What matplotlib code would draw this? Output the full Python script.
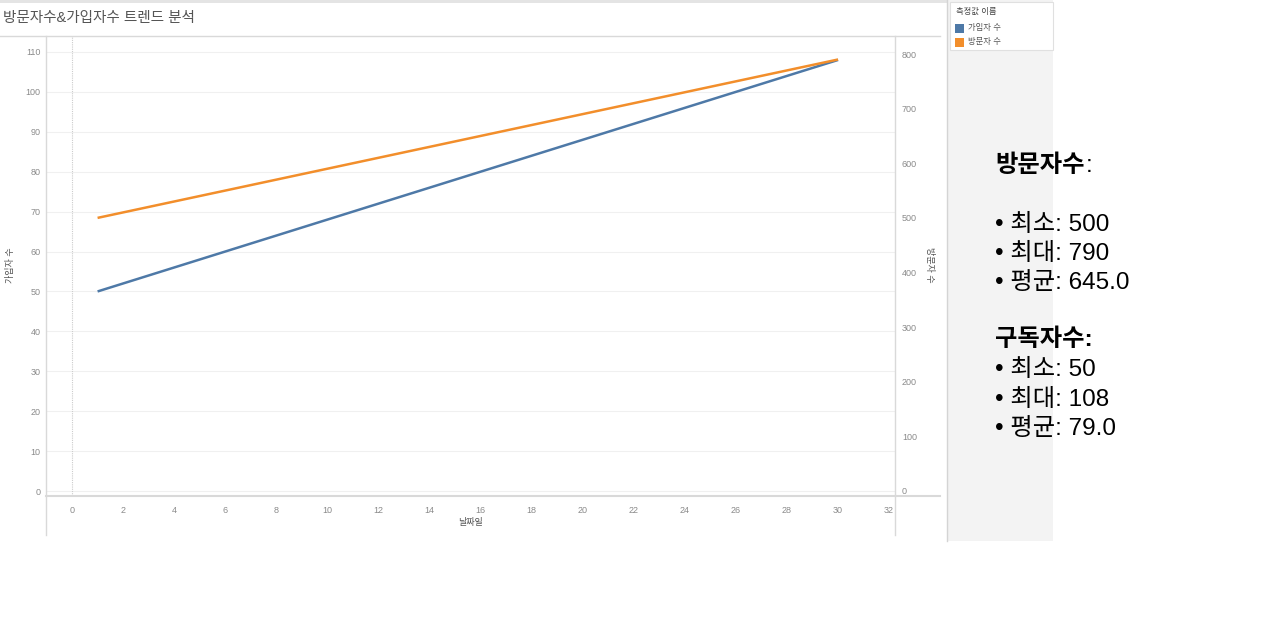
import matplotlib
matplotlib.use("Agg")
import matplotlib.pyplot as plt
from matplotlib.patches import Rectangle
from matplotlib.lines import Line2D

plt.rcParams['font.family'] = ['Liberation Sans', 'Noto Sans CJK KR', 'DejaVu Sans']

# ---- data ----
days = [1, 30]
visitors = [500, 790]      # 방문자 수 (right axis)
subscribers = [50, 108]    # 가입자 수 (left axis)
x_ticks = list(range(0, 33, 2))
left_ticks = list(range(0, 111, 10))
right_ticks = list(range(0, 801, 100))
title = "방문자수&가입자수 트렌드 분석"
legend_title = "측정값 이름"
legend_labels = ["가입자 수", "방문자 수"]
stats_visitors = ["최소: 500", "최대: 790", "평균: 645.0"]
stats_subs = ["최소: 50", "최대: 108", "평균: 79.0"]

W, H = 1284, 622
fig = plt.figure(figsize=(W / 100, H / 100), dpi=100)

def fx(p):
    return p / W

def fy(p):
    return 1 - p / H

BLUE = "#4e79a7"
ORANGE = "#f28e2b"
GRAY_T = "#8a8a8a"
LINE_C = "#d9d9d9"

# frame decorations
fig.add_artist(Rectangle((0, fy(3)), fx(947), 3 / H, facecolor="#e4e4e4", edgecolor="none"))
fig.add_artist(Rectangle((fx(947), fy(541)), fx(1053 - 947), 541 / H, facecolor="#f3f3f3", edgecolor="none"))
fig.add_artist(Line2D([fx(946.5), fx(946.5)], [fy(0), fy(541)], color="#d4d4d4", lw=1))
fig.add_artist(Line2D([0, fx(940)], [fy(36), fy(36)], color=LINE_C, lw=1))
fig.add_artist(Line2D([fx(46), fx(46)], [fy(36), fy(535)], color=LINE_C, lw=1))
fig.add_artist(Line2D([fx(895), fx(895)], [fy(36), fy(535)], color=LINE_C, lw=1))
fig.add_artist(Line2D([fx(46), fx(940)], [fy(496), fy(496)], color=LINE_C, lw=1.5))

fig.text(fx(3), fy(18), title, fontsize=10.5, color="#555555", va="center", ha="left")

# main axes
ax = fig.add_axes([fx(46), fy(496), fx(895 - 46), (496 - 36) / H])
ax.set_xlim(-1.02, 32.23)
ax.set_ylim(-1.25, 114.0)
for s in ax.spines.values():
    s.set_visible(False)
ax.set_xticks(x_ticks)
ax.set_yticks(left_ticks)
ax.tick_params(axis="both", length=0, labelsize=6.5, labelcolor=GRAY_T)
ax.tick_params(axis="x", pad=7)
ax.tick_params(axis="y", pad=4)
ax.grid(axis="y", color="#f0f0f0", lw=0.8)
ax.axvline(0, color="#cccccc", lw=0.8, ls=(0, (1, 1)))
ax.plot(days, subscribers, color=BLUE, lw=1.8, solid_capstyle="butt", zorder=3)
ax.set_xlabel("날짜일", fontsize=6.5, color="#555555", labelpad=2)

ax2 = ax.twinx()
ax2.set_ylim(-9.2, 833)
for s in ax2.spines.values():
    s.set_visible(False)
ax2.set_yticks(right_ticks)
ax2.tick_params(axis="y", length=0, labelsize=6.5, labelcolor=GRAY_T, pad=5)
ax2.plot(days, visitors, color=ORANGE, lw=1.8, solid_capstyle="butt", zorder=3)

fig.text(fx(11), fy(265), "가입자 수", fontsize=6.5, color="#555555", rotation=90,
         ha="center", va="center")
fig.text(fx(930), fy(265), "방문자 수", fontsize=6.5, color="#555555", rotation=-90,
         ha="center", va="center")

# legend panel
fig.add_artist(Rectangle((fx(950), fy(50)), fx(1053 - 950), 48 / H, facecolor="white", edgecolor="#e0e0e0", lw=0.8))
fig.text(fx(956), fy(12), legend_title, fontsize=6, color="#444444", va="center")
for i, (lab, col) in enumerate(zip(legend_labels, [BLUE, ORANGE])):
    yc = 28 + 14 * i
    fig.add_artist(Rectangle((fx(955), fy(yc + 4.5)), fx(9), 9 / H, facecolor=col, edgecolor="none"))
    fig.text(fx(968), fy(yc), lab, fontsize=6, color="#555555", va="center")

# stats text
fs = 17.5
dy = 3
t1 = fig.text(fx(995), fy(163 + dy), "방문자수", fontsize=fs, fontweight="bold", color="black", va="center")
fig.canvas.draw()
bb = t1.get_window_extent(renderer=fig.canvas.get_renderer())
fig.text(bb.x1 / W + 1 / W, fy(163 + dy), ":", fontsize=fs, color="black", va="center")
for i, s in enumerate(stats_visitors):
    fig.text(fx(995), fy(222 + dy + 29 * i), "• " + s, fontsize=fs, color="black", va="center")
fig.text(fx(995), fy(336 + dy), "구독자수:", fontsize=fs, fontweight="bold", color="black", va="center")
for i, s in enumerate(stats_subs):
    fig.text(fx(995), fy(367 + dy + 29.5 * i), "• " + s, fontsize=fs, color="black", va="center")

fig.savefig("out.png", dpi=100)
